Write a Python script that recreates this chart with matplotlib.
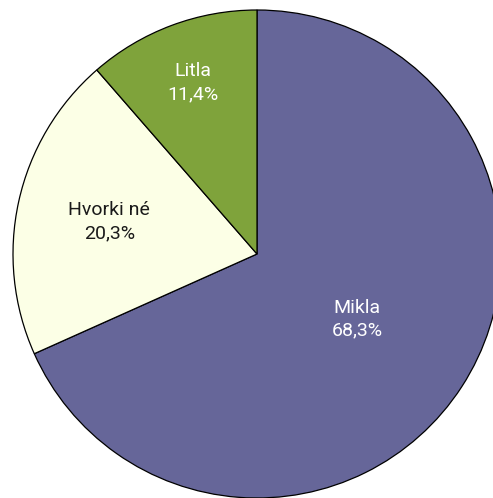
import numpy as np
import matplotlib
matplotlib.use("Agg")
import matplotlib.pyplot as plt

# ── data ──────────────────────────────────────────────
labels = ["Mikla", "Hvorki né", "Litla"]
shares = [68.3, 20.3, 11.4]
colors = ["#666699", "#FCFFE6", "#7FA33B"]
text_colors = ["white", "#1a1a1a", "white"]
label_radius = [0.49, 0.62, 0.75]

plt.rcParams["font.family"] = ["Roboto", "Liberation Sans", "DejaVu Sans"]

fig = plt.figure(figsize=(4.93, 4.98), dpi=100)
ax = fig.add_axes([0, 0, 1, 1])

wedges, _ = ax.pie(shares, colors=colors, startangle=90, counterclock=False,
                   radius=1.0, wedgeprops=dict(edgecolor="black", linewidth=0.9))

# place labels along each wedge's mid angle
for w, lab, val, tc, r in zip(wedges, labels, shares, text_colors, label_radius):
    mid = np.deg2rad((w.theta1 + w.theta2) / 2)
    x, y = r * np.cos(mid), r * np.sin(mid)
    txt = f"{lab}\n{val:.1f}%".replace(".", ",")
    ax.text(x, y, txt, ha="center", va="center", color=tc,
            fontsize=14, linespacing=1.35)

ax.set_xlim(-257 / 244, (493 - 257) / 244)
ax.set_ylim(-244 / 244, 254 / 244)
ax.set_aspect("auto")
ax.axis("off")

fig.savefig("out.png", dpi=100)
